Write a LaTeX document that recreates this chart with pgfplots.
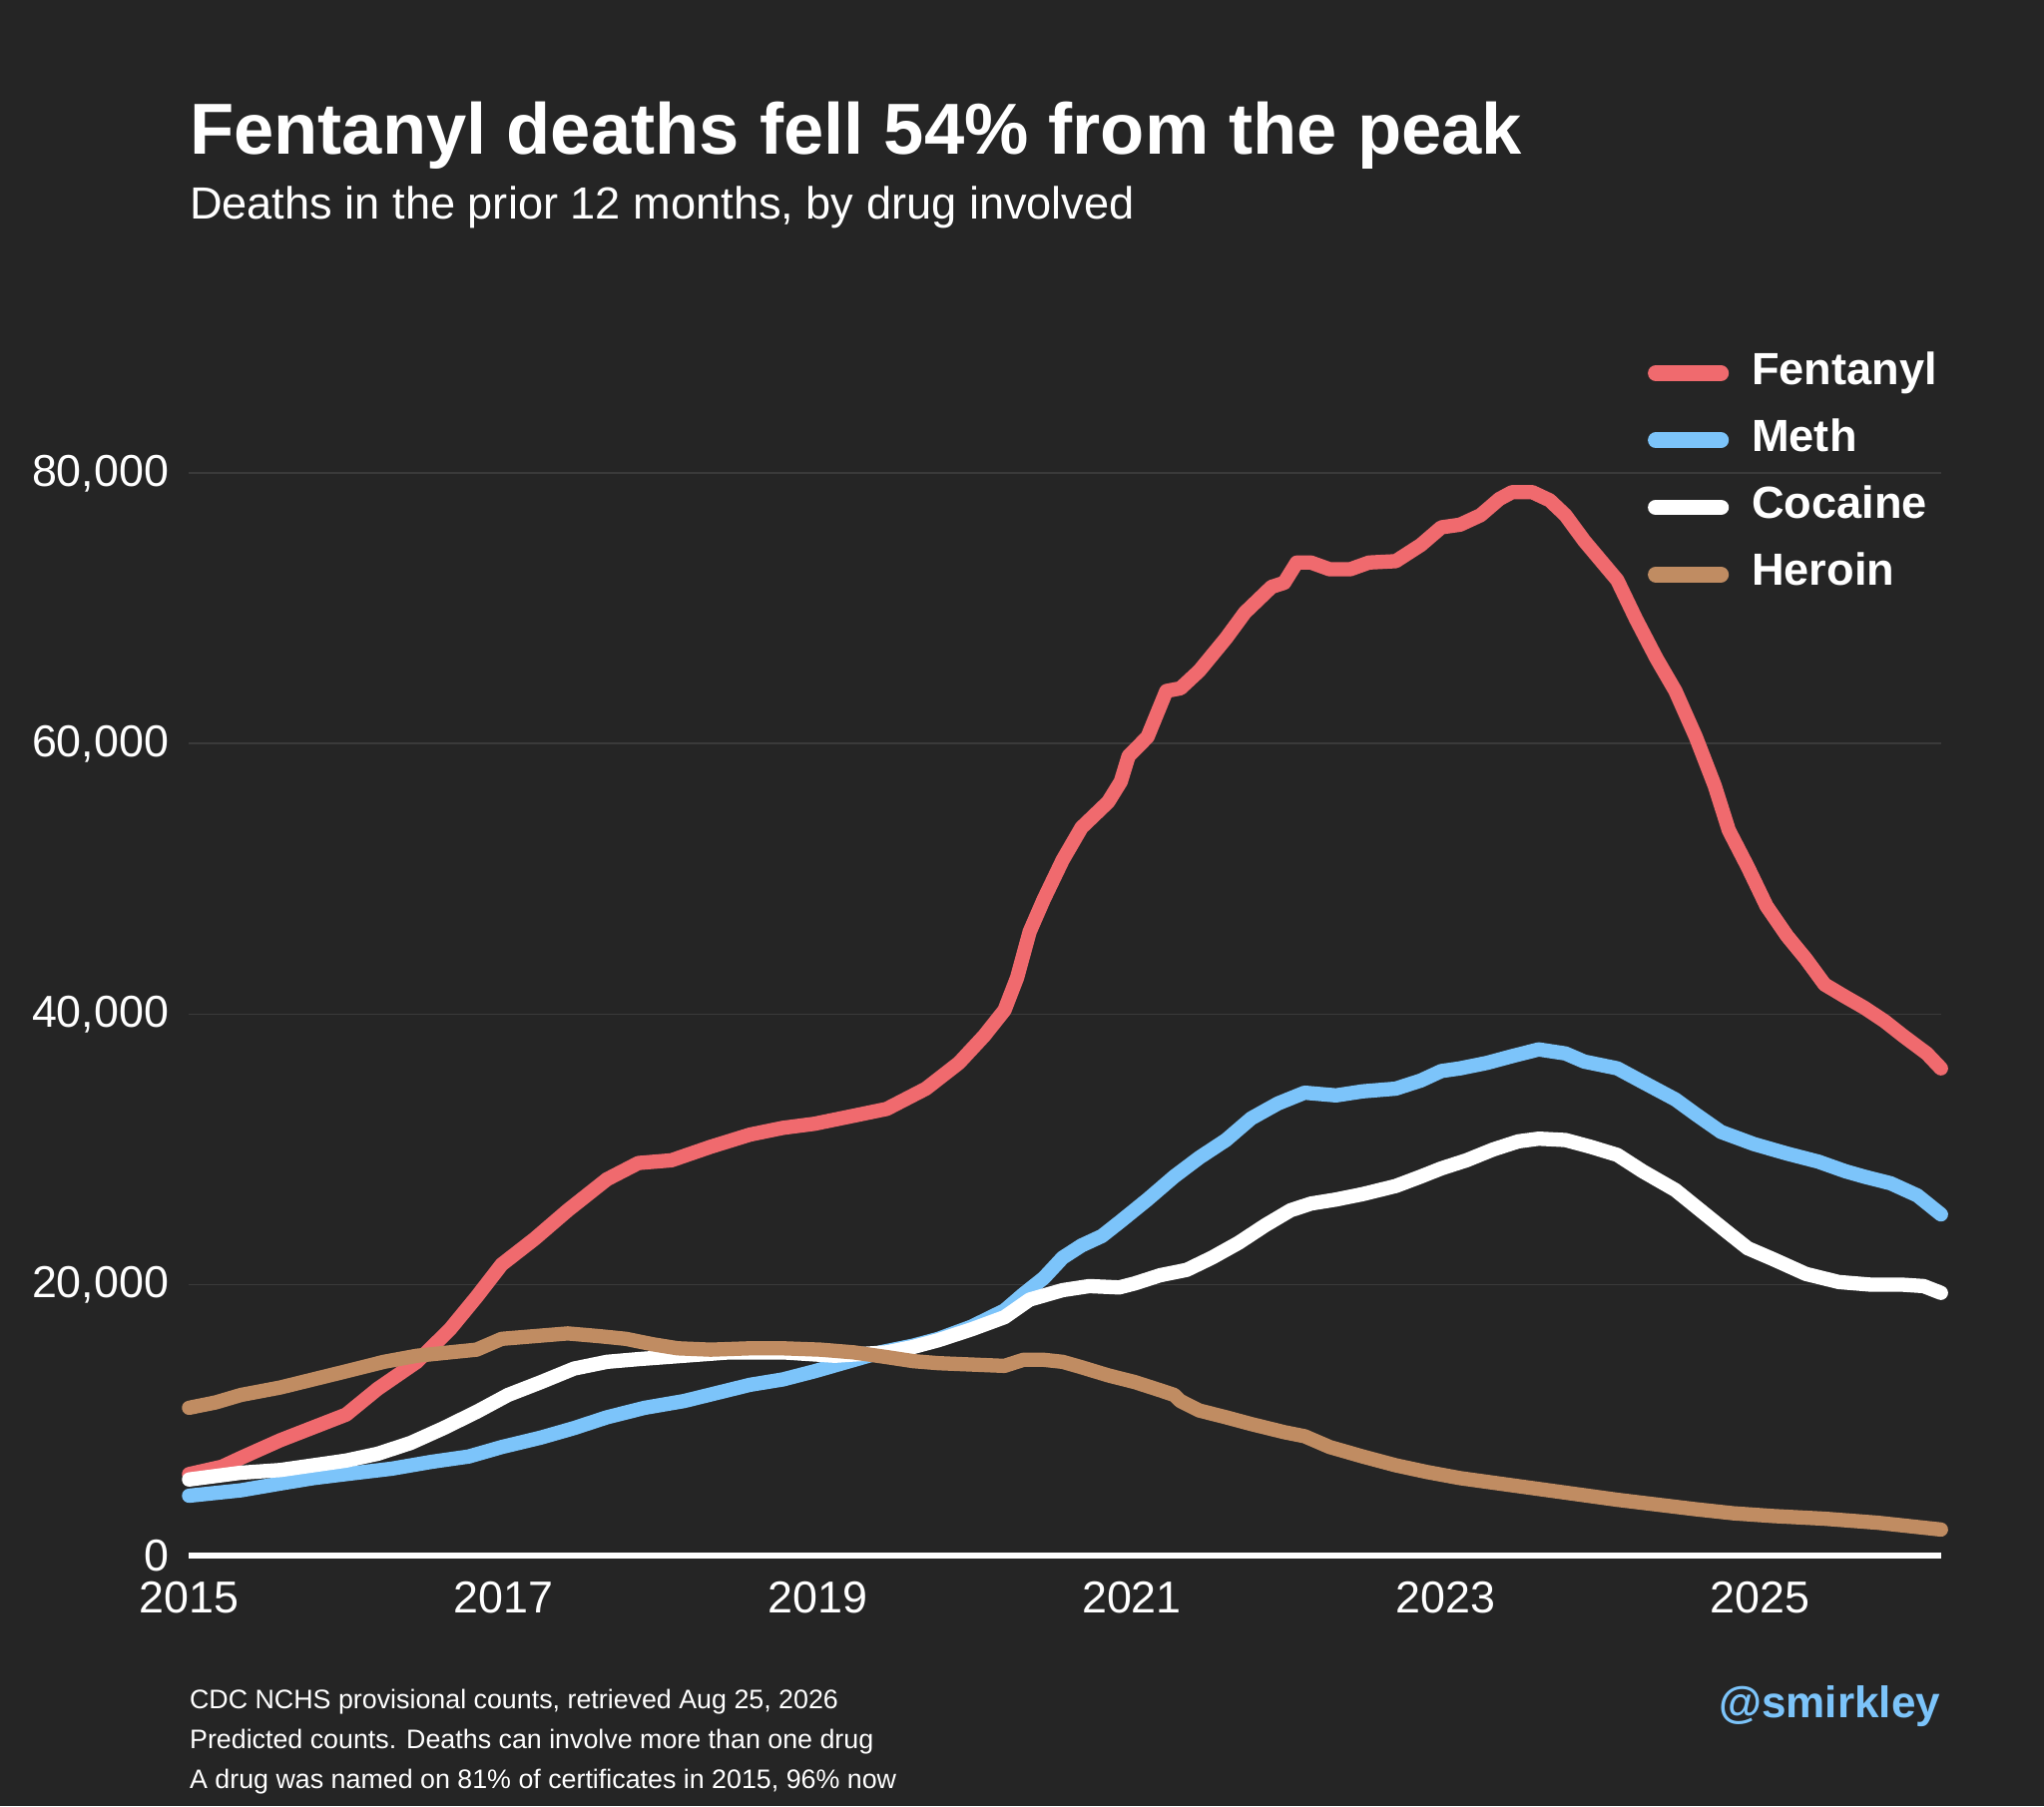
\documentclass[border=0pt]{standalone}
\usepackage{fontspec}
\setmainfont{Liberation Sans}
\usepackage{pgfplots}
\pgfplotsset{compat=1.18}
\usepackage{pgfplotstable}
\definecolor{bgc}{HTML}{252525}
\definecolor{gridc}{HTML}{3A3A3A}
\definecolor{fent}{HTML}{F06A6E}
\definecolor{meth}{HTML}{7CC4FA}
\definecolor{coca}{HTML}{FFFFFF}
\definecolor{hero}{HTML}{C08C62}

\pgfplotstableread{
x y
2015.00 6000
2015.21 6550
2015.33 7200
2015.58 8500
2015.79 9450
2016.00 10400
2016.20 12300
2016.45 14300
2016.66 16700
2016.83 19100
2016.99 21500
2017.20 23400
2017.41 25500
2017.66 27800
2017.86 29000
2018.07 29200
2018.32 30200
2018.57 31100
2018.78 31600
2018.98 31900
2019.19 32400
2019.44 33000
2019.69 34500
2019.90 36400
2020.06 38400
2020.19 40300
2020.27 42700
2020.35 46100
2020.44 48500
2020.56 51400
2020.68 53800
2020.85 55700
2020.93 57200
2020.98 59100
2021.10 60500
2021.22 63900
2021.31 64100
2021.43 65400
2021.60 67800
2021.72 69700
2021.89 71600
2021.97 71900
2022.05 73400
2022.14 73400
2022.26 72900
2022.39 72900
2022.51 73400
2022.68 73500
2022.84 74700
2022.97 76000
2023.09 76200
2023.22 76900
2023.34 78100
2023.42 78600
2023.55 78600
2023.66 78000
2023.76 76900
2023.88 75000
2024.09 72100
2024.21 69200
2024.34 66300
2024.46 63900
2024.59 60500
2024.71 56900
2024.80 53600
2024.92 50900
2025.04 48000
2025.17 45800
2025.29 44100
2025.41 42200
2025.54 41300
2025.66 40500
2025.79 39500
2025.91 38400
2026.06 37100
2026.15 36000
}\fentanyl

\pgfplotstableread{
x y
2015.00 4400
2015.33 4800
2015.58 5300
2015.79 5700
2016.00 6000
2016.29 6400
2016.54 6900
2016.78 7300
2016.99 8000
2017.24 8700
2017.45 9400
2017.66 10200
2017.90 10900
2018.15 11400
2018.36 12000
2018.57 12600
2018.78 13000
2018.98 13600
2019.19 14300
2019.40 15000
2019.61 15500
2019.77 16000
2019.98 16900
2020.19 18100
2020.31 19300
2020.44 20500
2020.56 22000
2020.68 22900
2020.81 23600
2020.93 24700
2021.10 26300
2021.27 28000
2021.43 29400
2021.60 30700
2021.76 32300
2021.93 33400
2022.10 34200
2022.30 34000
2022.47 34300
2022.68 34500
2022.84 35100
2022.97 35800
2023.09 36000
2023.26 36400
2023.42 36900
2023.59 37400
2023.76 37100
2023.88 36500
2024.09 36000
2024.25 35000
2024.46 33700
2024.59 32600
2024.75 31300
2024.96 30400
2025.17 29700
2025.37 29100
2025.54 28400
2025.66 28000
2025.83 27500
2026.00 26600
2026.15 25200
}\meth

\pgfplotstableread{
x y
2015.00 5600
2015.33 6100
2015.58 6300
2015.79 6650
2016.00 7000
2016.20 7500
2016.41 8300
2016.62 9400
2016.83 10600
2017.03 11850
2017.24 12800
2017.45 13800
2017.66 14300
2017.86 14500
2018.15 14750
2018.44 15000
2018.78 15000
2019.11 14750
2019.44 15000
2019.61 15400
2019.77 15900
2019.98 16700
2020.19 17600
2020.35 18900
2020.56 19600
2020.73 19900
2020.92 19800
2021.02 20100
2021.18 20700
2021.35 21100
2021.51 22000
2021.68 23100
2021.85 24400
2022.01 25500
2022.14 26000
2022.30 26300
2022.47 26700
2022.68 27300
2022.84 28000
2022.97 28600
2023.13 29200
2023.30 30000
2023.46 30600
2023.59 30800
2023.76 30700
2023.92 30200
2024.09 29600
2024.25 28400
2024.46 27000
2024.63 25400
2024.79 23900
2024.92 22700
2025.08 21900
2025.29 20800
2025.50 20200
2025.71 20000
2025.91 20000
2026.04 19900
2026.15 19400
}\cocaine

\pgfplotstableread{
x y
2015.00 10900
2015.17 11300
2015.33 11850
2015.58 12400
2015.79 13000
2016.00 13600
2016.24 14300
2016.45 14750
2016.66 15000
2016.83 15200
2016.99 16000
2017.20 16200
2017.41 16400
2017.61 16200
2017.78 16000
2017.95 15600
2018.11 15300
2018.32 15200
2018.57 15300
2018.78 15300
2019.02 15200
2019.23 15000
2019.44 14650
2019.61 14350
2019.77 14200
2019.98 14100
2020.19 14000
2020.31 14450
2020.44 14450
2020.56 14300
2020.68 13900
2020.85 13300
2021.02 12800
2021.18 12200
2021.27 11850
2021.31 11400
2021.43 10700
2021.60 10200
2021.76 9700
2021.97 9100
2022.10 8800
2022.26 8000
2022.47 7300
2022.68 6650
2022.88 6150
2023.09 5700
2023.34 5300
2023.59 4900
2023.84 4500
2024.09 4100
2024.34 3750
2024.59 3400
2024.83 3100
2025.08 2900
2025.41 2700
2025.75 2400
2026.15 1900
}\heroin

\begin{document}
\begin{tikzpicture}[x=0.0125cm,y=-0.0125cm]
\path[use as bounding box] (0,0) rectangle (1568,1386);
\fill[bgc] (0,0) rectangle (1568,1386);

\node[anchor=base west, inner sep=0pt, text=white, font=\fontsize{19.7}{24}\selectfont\bfseries] at (145,118) {Fentanyl deaths fell 54\% from the peak};
\node[anchor=base west, inner sep=0pt, text=white, font=\fontsize{12.3}{15}\selectfont] at (145,168) {Deaths in the prior 12 months, by drug involved};

\begin{axis}[
  at={(1.8125cm,-14.9125cm)}, anchor=south west,
  scale only axis, width=16.8cm, height=10.375cm,
  xmin=2015, xmax=2026.154, ymin=0, ymax=80000,
  clip=false,
  scaled y ticks=false, scaled x ticks=false,
  axis line style={draw=none},
  tick style={draw=none},
  xtick={2015,2017,2019,2021,2023,2025},
  xticklabels={2015,2017,2019,2021,2023,2025},
  ytick={20000,40000,60000,80000},
  yticklabels={{20,000},{40,000},{60,000},{80,000}},
  extra y ticks={0}, extra y tick labels={0},
  extra y tick style={ymajorgrids=true, major grid style={white, line width=1.6pt}},
  ymajorgrids, major grid style={gridc, line width=0.5pt},
  ticklabel style={text=white, font=\fontsize{12.2}{14}\selectfont},
  yticklabel style={inner sep=0pt, anchor=east, xshift=-0.1875cm},
  xticklabel style={inner sep=0pt, anchor=north, yshift=-0.25cm},
  legend style={draw=none, fill=none, at={(rel axis cs:0.8320,0.9995)}, anchor=west,
    inner sep=0pt, row sep=6.3pt, text=white,
    font=\fontsize{12.3}{14}\selectfont\bfseries,
    nodes={inner sep=0pt, text height=9pt, text depth=3pt},
    /tikz/every odd column/.append style={column sep=0.22cm}},
  legend cell align=left,
  legend image code/.code={\draw[#1, line width=4.3pt, line cap=round] (0.075cm,0cm) -- (0.7cm,0cm);},
  every axis plot/.append style={line width=3.9pt, line join=round, line cap=round},
]
\addplot[fent] table[x=x,y=y] {\fentanyl};
\addlegendentry{Fentanyl}
\addplot[meth] table[x=x,y=y] {\meth};
\addlegendentry{Meth}
\addplot[coca] table[x=x,y=y] {\cocaine};
\addlegendentry{Cocaine}
\addplot[hero] table[x=x,y=y] {\heroin};
\addlegendentry{Heroin}
\end{axis}

\node[anchor=base west, inner sep=0pt, text=white, font=\fontsize{7.3}{9}\selectfont] at (145,1311) {CDC NCHS provisional counts, retrieved Aug 25, 2026};
\node[anchor=base west, inner sep=0pt, text=white, font=\fontsize{7.3}{9}\selectfont] at (145,1342) {Predicted counts. Deaths can involve more than one drug};
\node[anchor=base west, inner sep=0pt, text=white, font=\fontsize{7.3}{9}\selectfont] at (145,1372) {A drug was named on 81\% of certificates in 2015, 96\% now};
\node[anchor=base east, inner sep=0pt, text=meth, font=\fontsize{12}{14}\selectfont\bfseries] at (1489,1318) {@smirkley};
\end{tikzpicture}
\end{document}
